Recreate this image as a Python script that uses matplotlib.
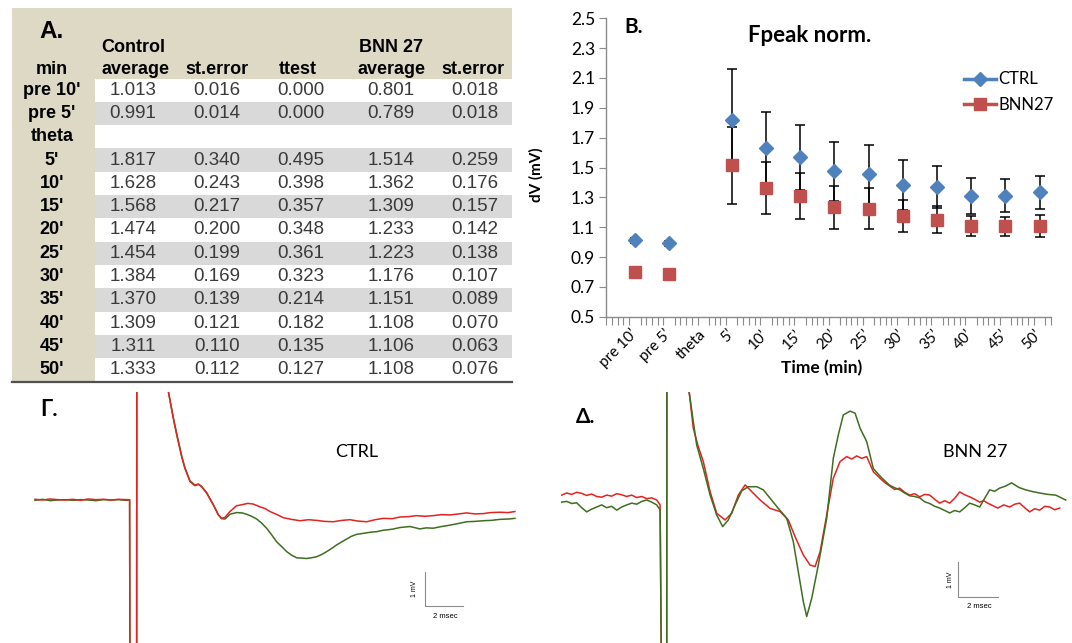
import matplotlib
matplotlib.use('Agg')
import matplotlib.pyplot as plt
import numpy as np
from matplotlib.patches import Rectangle
from matplotlib.lines import Line2D

W, H = 1072, 643

# ---------------- data (panel A table / panel B chart) ----------------
row_labels = ["pre 10'", "pre 5'", "theta", "5'", "10'", "15'", "20'", "25'",
              "30'", "35'", "40'", "45'", "50'"]
b_labels = ["pre 10\u2019", "pre 5\u2019", "theta", "5\u2019", "10\u2019", "15\u2019",
            "20\u2019", "25\u2019", "30\u2019", "35\u2019", "40\u2019", "45\u2019", "50\u2019"]
ctrl_avg = [1.013, 0.991, None, 1.817, 1.628, 1.568, 1.474, 1.454, 1.384, 1.370, 1.309, 1.311, 1.333]
ctrl_se = [0.016, 0.014, None, 0.340, 0.243, 0.217, 0.200, 0.199, 0.169, 0.139, 0.121, 0.110, 0.112]
ttest = [0.000, 0.000, None, 0.495, 0.398, 0.357, 0.348, 0.361, 0.323, 0.214, 0.182, 0.135, 0.127]
bnn_avg = [0.801, 0.789, None, 1.514, 1.362, 1.309, 1.233, 1.223, 1.176, 1.151, 1.108, 1.106, 1.108]
bnn_se = [0.018, 0.018, None, 0.259, 0.176, 0.157, 0.142, 0.138, 0.107, 0.089, 0.070, 0.063, 0.076]
y_ticks = [0.5, 0.7, 0.9, 1.1, 1.3, 1.5, 1.7, 1.9, 2.1, 2.3, 2.5]

# ---------------- data (traces, time in msec, voltage in mV) ----------------
g_red_t = [-5.0, -4.6, -4.2, -3.8, -3.4, -3.0, -2.6, -2.2, -1.8, -1.4,
           -1.0, -0.6, -0.2, -0.02, 0.0, 0.35, 0.36, 1.90, 2.02, 2.28,
           2.46, 2.72, 2.89, 3.16, 3.42, 3.60, 3.77, 4.04, 4.39, 4.65,
           4.82, 5.00, 5.26, 5.61, 5.96, 6.20, 6.49, 6.84, 7.10, 7.37,
           7.70, 8.07, 8.50, 8.95, 9.40, 9.82, 10.25, 10.70, 11.15, 11.58,
           12.0, 12.46, 12.9, 13.33, 13.8, 14.21, 14.65, 15.09, 15.5, 15.96,
           16.4, 16.84, 17.3, 17.72, 18.15, 18.60, 19.0, 19.47, 19.9, 20.26]
g_red_v = [0.02, 0.00, 0.03, 0.01, 0.00, 0.02, -0.01, 0.03, 0.01, 0.02,
           0.00, 0.02, 0.01, 0.01, -6.0, -6.0, 6.0, 4.6, 3.19, 2.40,
           1.91, 1.27, 0.93, 0.54, 0.42, 0.46, 0.39, 0.20, -0.15, -0.44,
           -0.54, -0.51, -0.34, -0.17, -0.13, -0.10, -0.12, -0.20, -0.25, -0.34,
           -0.42, -0.52, -0.57, -0.61, -0.58, -0.60, -0.63, -0.64, -0.60, -0.58,
           -0.62, -0.64, -0.58, -0.54, -0.55, -0.50, -0.49, -0.46, -0.48, -0.46,
           -0.43, -0.44, -0.41, -0.38, -0.41, -0.40, -0.37, -0.36, -0.37, -0.34]
g_grn_t = [-5.0, -4.6, -4.2, -3.8, -3.4, -3.0, -2.6, -2.2, -1.8, -1.4,
           -1.0, -0.6, -0.2, -0.02, 0.0, 0.35, 0.36, 1.90, 2.02, 2.28,
           2.46, 2.72, 2.89, 3.16, 3.42, 3.60, 3.77, 4.04, 4.39, 4.65,
           4.82, 5.00, 5.26, 5.61, 5.90, 6.14, 6.40, 6.67, 6.93, 7.19,
           7.45, 7.72, 8.0, 8.25, 8.50, 8.77, 9.05, 9.30, 9.55, 9.82,
           10.10, 10.35, 10.60, 10.88, 11.15, 11.40, 11.65, 11.93, 12.3, 12.63,
           13.0, 13.33, 13.8, 14.21, 14.74, 15.26, 15.6, 15.96, 16.4, 16.84,
           17.3, 17.72, 18.15, 18.60, 19.0, 19.47, 19.9, 20.26]
g_grn_v = [-0.01, 0.02, -0.02, 0.00, 0.01, -0.01, 0.01, 0.00, -0.02, 0.01,
           0.00, 0.01, -0.01, 0.00, -6.0, -6.0, 6.0, 4.6, 3.19, 2.42,
           1.95, 1.30, 0.95, 0.56, 0.44, 0.47, 0.40, 0.21, -0.14, -0.43,
           -0.55, -0.56, -0.42, -0.37, -0.38, -0.42, -0.48, -0.56, -0.68, -0.83,
           -1.02, -1.23, -1.38, -1.52, -1.62, -1.70, -1.71, -1.72, -1.70, -1.67,
           -1.60, -1.52, -1.43, -1.32, -1.23, -1.15, -1.07, -1.01, -0.98, -0.95,
           -0.93, -0.89, -0.86, -0.81, -0.78, -0.85, -0.82, -0.83, -0.78, -0.74,
           -0.69, -0.64, -0.63, -0.61, -0.60, -0.57, -0.56, -0.54]

# Δ (BNN 27) traces: baseline, stimulus artifact, response, tail
d_red_t = [-5.0, -4.75, -4.5, -4.25, -4.0, -3.75, -3.5, -3.25, -3.0, -2.75,
           -2.5, -2.25, -2.0, -1.75, -1.5, -1.25, -1.0, -0.75, -0.5, -0.25,
           -0.08, 0.0, 0.25, 0.26, 1.20,
           1.37, 1.58, 1.83, 2.08, 2.42, 2.75, 3.17, 3.50, 3.83, 4.17,
           4.50, 4.92, 5.42, 5.92, 6.33, 6.67, 7.08, 7.42, 7.67, 7.92,
           8.25, 8.58, 8.92, 9.25, 9.50, 9.75, 10.0, 10.25, 10.58,
           10.92, 11.15, 11.4, 11.65, 11.9, 12.15, 12.4, 12.65, 12.9, 13.15,
           13.4, 13.65, 13.9, 14.15, 14.4, 14.65, 14.9, 15.15, 15.4, 15.65,
           15.9, 16.1, 16.3, 16.55, 16.8, 17.1, 17.4, 17.65, 17.9, 18.15,
           18.4, 18.65, 18.9, 19.15, 19.4, 19.65, 19.9]
d_red_v = [0.14, 0.20, 0.16, 0.22, 0.19, 0.13, 0.17, 0.10, 0.08, 0.14,
           0.11, 0.18, 0.15, 0.10, 0.14, 0.07, 0.10, 0.04, 0.06, 0.00,
           -0.14, -6.0, -6.0, 6.0, 4.5,
           3.10, 2.05, 1.52, 1.10, 0.24, -0.38, -0.57, -0.38, 0.14, 0.43,
           0.24, 0.00, -0.24, -0.33, -0.57, -1.05, -1.57, -1.86, -1.90, -1.48,
           -0.43, 0.62, 1.10, 1.24, 1.17, 1.26, 1.19, 1.24, 0.81,
           0.62, 0.50, 0.40, 0.30, 0.34, 0.22, 0.14, 0.18, 0.09, 0.16,
           0.14, 0.02, -0.09, -0.02, -0.09, 0.05, 0.23, 0.15, 0.09, 0.02,
           -0.06, -0.02, -0.09, -0.16, -0.23, -0.14, -0.20, -0.12, -0.09, -0.22,
           -0.34, -0.25, -0.29, -0.18, -0.20, -0.28, -0.23]
d_grn_t = [-5.0, -4.75, -4.5, -4.25, -4.0, -3.75, -3.5, -3.25, -3.0, -2.75,
           -2.5, -2.25, -2.0, -1.75, -1.5, -1.25, -1.0, -0.75, -0.5, -0.25,
           -0.08, 0.0, 0.25, 0.26, 1.20,
           1.37, 1.58, 1.75, 2.08, 2.42, 2.75, 3.05, 3.33, 3.67, 4.00,
           4.33, 4.75, 5.08, 5.42, 5.83, 6.25, 6.58, 6.83, 7.08, 7.25,
           7.50, 7.83, 8.25, 8.58, 8.83, 9.08, 9.42, 9.67, 9.92, 10.25, 10.58,
           10.92, 11.15, 11.4, 11.65, 11.9, 12.15, 12.4, 12.65, 12.9, 13.15,
           13.4, 13.65, 13.9, 14.15, 14.4, 14.65, 14.9, 15.15, 15.4, 15.65,
           15.9, 16.15, 16.4, 16.65, 16.9, 17.2, 17.5, 17.85, 18.2, 18.55,
           18.9, 19.3, 19.7, 20.2]
d_grn_v = [-0.06, -0.04, -0.10, -0.08, -0.22, -0.34, -0.26, -0.20, -0.14, -0.22,
           -0.18, -0.29, -0.20, -0.14, -0.09, -0.12, -0.04, 0.00, -0.06, -0.14,
           -0.28, -6.0, -6.0, 6.0, 4.5,
           3.10, 2.24, 1.57, 0.90, 0.14, -0.43, -0.76, -0.57, -0.14, 0.26,
           0.38, 0.38, 0.29, 0.05, -0.24, -0.52, -1.19, -2.05, -2.90, -3.33,
           -2.81, -1.86, -0.52, 1.19, 1.86, 2.43, 2.54, 2.48, 2.05, 1.67, 0.90,
           0.68, 0.55, 0.42, 0.35, 0.29, 0.20, 0.12, 0.10, 0.06, -0.05,
           -0.10, -0.18, -0.23, -0.30, -0.37, -0.30, -0.34, -0.22, -0.09, -0.14,
           -0.20, 0.05, 0.29, 0.25, 0.34, 0.40, 0.49, 0.36, 0.29, 0.24,
           0.20, 0.16, 0.14, 0.00]

# ---------------- styling / layout ----------------
BLUE = '#4F81BD'
RED_M = '#C0504D'
TR_RED = '#E3231F'
TR_GRN = '#3E6E1F'
TAN = '#DDD9C4'
GREY_ROW = '#D9D9D9'
AX_GREY = '#8A8A8A'
TABLE_FONT = 'Liberation Sans'
B_FONT = ['Lato', 'DejaVu Sans']
GREEK_FONT = ['Lato', 'Noto Sans', 'DejaVu Sans']


def px_rect(x0, y0, x1, y1):
    return [x0 / W, 1 - y1 / H, (x1 - x0) / W, (y1 - y0) / H]


fig = plt.figure(figsize=(W / 100, H / 100), dpi=100)

# ================= Panel A: table =================
ax_t = fig.add_axes([0, 0, 1, 1])
ax_t.set_xlim(0, W)
ax_t.set_ylim(H, 0)
ax_t.axis('off')

tab_x0, tab_x1, tab_y0, tab_y1 = 12, 512, 8, 382
data_x0 = 95
row_top, row_h = 78.5, 23.3
ax_t.add_patch(Rectangle((tab_x0, tab_y0), tab_x1 - tab_x0, tab_y1 - tab_y0,
                         fc=TAN, ec='none', zorder=0))
for i in range(len(row_labels)):
    fc = 'white' if i % 2 == 0 else GREY_ROW
    ax_t.add_patch(Rectangle((data_x0, row_top + i * row_h), tab_x1 - data_x0, row_h,
                             fc=fc, ec='none', zorder=1))
ax_t.plot([tab_x0, tab_x1], [tab_y1, tab_y1], color='#505050', lw=1.6, zorder=2)

col_x = [52, 133, 217, 301, 391, 475]
ax_t.text(52, 31, 'A.', fontsize=17.5, fontweight='bold', family=TABLE_FONT,
          ha='center', va='center')
hdr1 = [('Control', 133), ('BNN 27', 391)]
hdr2 = [('min', 52), ('average', 135), ('st.error', 217), ('ttest', 298),
        ('average', 391), ('st.error', 473)]
for txt, x in hdr1:
    ax_t.text(x, 47, txt, fontsize=13, fontweight='bold', family=TABLE_FONT,
              ha='center', va='center')
for txt, x in hdr2:
    ax_t.text(x, 69, txt, fontsize=13, fontweight='bold', family=TABLE_FONT,
              ha='center', va='center')

cols = [ctrl_avg, ctrl_se, ttest, bnn_avg, bnn_se]
for i, lab in enumerate(row_labels):
    yc = row_top + (i + 0.5) * row_h
    ax_t.text(col_x[0], yc, lab, fontsize=13, fontweight='bold', family=TABLE_FONT,
              ha='center', va='center')
    for j, col in enumerate(cols):
        v = col[i]
        if v is None:
            continue
        ax_t.text(col_x[j + 1], yc, f'{v:.3f}', fontsize=13.5, family=TABLE_FONT,
                  color='#3A3A3A', ha='center', va='center')

# ================= Panel B: chart =================
cat_pos = [1, 7, 13, 18, 24, 30, 36, 42, 48, 54, 60, 66, 72]
ax = fig.add_axes(px_rect(606.3, 18.3, 1051, 316.7))
ax.set_xlim(-4, 74)
ax.set_ylim(0.5, 2.5)

xc = [p for p, v in zip(cat_pos, ctrl_avg) if v is not None]
yc_ = [v for v in ctrl_avg if v is not None]
ec_ = [v for v in ctrl_se if v is not None]
xb = [p for p, v in zip(cat_pos, bnn_avg) if v is not None]
yb_ = [v for v in bnn_avg if v is not None]
eb_ = [v for v in bnn_se if v is not None]

ax.errorbar(xc, yc_, yerr=ec_, fmt='none', ecolor='black', elinewidth=1.1,
            capsize=3.5, capthick=1.1, zorder=2)
ax.errorbar(xb, yb_, yerr=eb_, fmt='none', ecolor='black', elinewidth=1.1,
            capsize=3.5, capthick=1.1, zorder=2)
ax.plot(xc, yc_, linestyle='none', marker='D', ms=7.5, color=BLUE, zorder=3)
ax.plot(xb, yb_, linestyle='none', marker='s', ms=8.5, color=RED_M, zorder=3)

for s in ['top', 'right']:
    ax.spines[s].set_visible(False)
for s in ['left', 'bottom']:
    ax.spines[s].set_color(AX_GREY)
    ax.spines[s].set_linewidth(1.0)

ax.set_yticks(y_ticks)
ax.set_yticklabels([f'{t:.1f}' for t in y_ticks], family=B_FONT, fontsize=12.5)
ax.tick_params(axis='y', direction='out', length=5, color=AX_GREY, pad=3)

ax.set_xticks(cat_pos)
ax.set_xticklabels(b_labels, family=B_FONT, fontsize=11, rotation=45,
                   ha='right', va='center', rotation_mode='anchor')
ax.tick_params(axis='x', which='major', length=0, pad=11)
ax.set_xticks(np.arange(-4, 75, 1), minor=True)
ax.tick_params(axis='x', which='minor', direction='out', length=6, color=AX_GREY, width=0.8)

ax.set_ylabel('dV (mV)', family=B_FONT, fontsize=11, fontweight='bold')
ax.yaxis.set_label_coords(-0.140, 0.475)
ax.set_xlabel('Time (min)', family=B_FONT, fontsize=12.5, fontweight='bold')
ax.xaxis.set_label_coords(0.485, -0.172)
ax.xaxis.label.set_va('center')

fig.text(634 / W, 1 - 27 / H, 'B.', family=B_FONT, fontsize=15, fontweight='bold',
         ha='center', va='center')
fig.text(810 / W, 1 - 35 / H, 'Fpeak norm.', family=B_FONT, fontsize=16,
         fontweight='bold', ha='center', va='center')

handles = [Line2D([], [], color=BLUE, marker='D', ms=7.5, lw=2.5),
           Line2D([], [], color=RED_M, marker='s', ms=8.5, lw=2.5)]
ax.legend(handles, ['CTRL', 'BNN27'], loc='upper left', bbox_to_anchor=(0.805, 0.822),
          frameon=False, prop={'family': B_FONT, 'size': 12}, handlelength=1.9,
          handletextpad=0.15, labelspacing=0.55, borderpad=0, borderaxespad=0)

# ================= Panels Γ and Δ: traces =================
ax_g = fig.add_axes(px_rect(0, 392, 540, 643))
ax_g.set_xlim(-6.842, 21.58)
ax_g.set_ylim(-4.206, 3.176)
ax_g.axis('off')
ax_g.plot(g_grn_t, g_grn_v, color=TR_GRN, lw=1.1)
ax_g.plot(g_red_t, g_red_v, color=TR_RED, lw=1.1)
# scale bar (1 mV, 2 msec)
sb_t, sb_v = 15.53, -3.11
ax_g.plot([sb_t, sb_t, sb_t + 2], [sb_v + 1, sb_v, sb_v], color='#8C8C8C', lw=0.8)
ax_g.text(sb_t - 0.55, sb_v + 0.5, '1 mV', rotation=90, fontsize=5, family=TABLE_FONT,
          ha='center', va='center')
ax_g.text(sb_t + 1.05, sb_v - 0.33, '2 msec', fontsize=5.5, family=TABLE_FONT,
          ha='center', va='center')

ax_d = fig.add_axes(px_rect(540, 392, 1072, 643))
ax_d.set_xlim(-6.085, 20.515)
ax_d.set_ylim(-4.086, 3.086)
ax_d.axis('off')
ax_d.plot(d_red_t, d_red_v, color=TR_RED, lw=1.1)
ax_d.plot(d_grn_t, d_grn_v, color=TR_GRN, lw=1.1)
sd_t, sd_v = 14.83, -2.76
ax_d.plot([sd_t, sd_t, sd_t + 2], [sd_v + 1, sd_v, sd_v], color='#8C8C8C', lw=0.8)
ax_d.text(sd_t - 0.4, sd_v + 0.47, '1 mV', rotation=90, fontsize=5, family=TABLE_FONT,
          ha='center', va='center')
ax_d.text(sd_t + 1.05, sd_v - 0.29, '2 msec', fontsize=5.5, family=TABLE_FONT,
          ha='center', va='center')

fig.text(49 / W, 1 - 410 / H, '\u0393.', family=GREEK_FONT, fontsize=16,
         fontweight='bold', ha='center', va='center')
fig.text(357 / W, 1 - 452 / H, 'CTRL', family=B_FONT, fontsize=13,
         ha='center', va='center')
fig.text(586 / W, 1 - 417 / H, '\u0394.', family=GREEK_FONT, fontsize=15,
         fontweight='bold', ha='center', va='center')
fig.text(975 / W, 1 - 452 / H, 'BNN 27', family=B_FONT, fontsize=13,
         ha='center', va='center')

fig.savefig('out.png', dpi=100)
